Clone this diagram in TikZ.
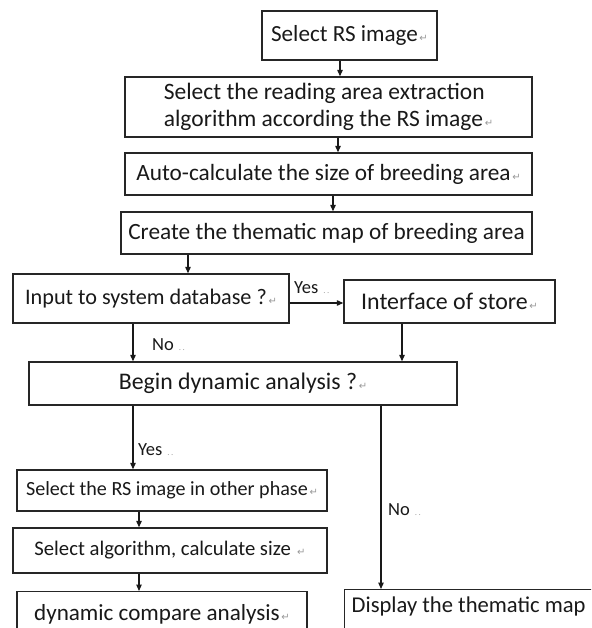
\documentclass[tikz,border=0pt]{standalone}
\usepackage{fontspec}
\setmainfont{Carlito}
\newfontfamily\symf{DejaVu Sans}
\usetikzlibrary{arrows.meta}
\newcommand{\ret}{{\symf\fontsize{10}{10}\selectfont\color{black!40}\,↵}}
\newcommand{\fdots}{{\fontsize{9}{9}\selectfont\color{black!35}\hspace{5pt}.\,.}}
\newcommand{\fs}[1]{\fontsize{#1}{1.15\dimexpr #1pt\relax}\selectfont}
\begin{document}
\begin{tikzpicture}[x=1pt,y=-1pt,
  box/.style={draw=black!85, line width=1.4pt, inner sep=0pt, font=\fs{23.3}, text=black!90},
  arr/.style={draw=black!90, line width=1.2pt, -{Triangle[length=6.5pt,width=5.5pt]}},
  lab/.style={font=\fs{18.5}, anchor=west, inner sep=0pt, text=black!90}]
\useasboundingbox (0,0) rectangle (591,628);
\clip (0,0) rectangle (591,628);
\fill[white] (0,0) rectangle (591,628);

\node[box, minimum width=175pt, minimum height=49pt, font=\fs{23.1}] (b1) at (349.5,35.5) {Select RS image\ret};
\node[box, minimum width=407pt, minimum height=60pt, align=left, font=\fontsize{23.5}{27}\selectfont] (b2) at (328.5,107) {Select the reading area extraction\\algorithm according the RS image\ret};
\node[box, minimum width=407pt, minimum height=42pt] (b3) at (328.5,174) {Auto-calculate the size of breeding area\ret};
\node[box, minimum width=411pt, minimum height=42pt] (b4) at (326.5,233) {Create the thematic map of breeding area};
\node[box, minimum width=276pt, minimum height=49pt, font=\fs{22.2}] (b5) at (151,298.5) {Input to system database ?\ret};
\node[box, minimum width=211pt, minimum height=43pt, font=\fs{23.9}] (st) at (449.5,301.5) {Interface of store\ret};
\node[box, minimum width=428pt, minimum height=43pt, font=\fs{23.8}] (b6) at (243,383.5) {Begin dynamic analysis ?\ret};
\node[box, minimum width=310pt, minimum height=41pt, font=\fs{20.1}] (b7) at (172,490.5) {Select the RS image in other phase\ret};
\node[box, minimum width=314pt, minimum height=45pt, font=\fs{20.7}] (b8) at (170,550.5) {Select algorithm, calculate size \ret};
\node[box, anchor=north, minimum width=290pt, text height=29pt, text depth=15pt, font=\fs{23.1}] (b9) at (162,591) {dynamic compare analysis\ret};
\node[box, anchor=north west, text height=23pt, text depth=20pt, inner xsep=7pt, font=\fs{22.6}] (b10) at (344,589) {\makebox[286pt][l]{Display the thematic map}};

\draw[arr] ([xshift=-9.5pt]b1.south) -- ([xshift=11.5pt]b2.north);
\draw[arr] ([xshift=9.5pt]b2.south) -- ([xshift=9.5pt]b3.north);
\draw[arr] ([xshift=4.5pt]b3.south) -- ([xshift=6.5pt]b4.north);
\draw[arr] ([xshift=-138.5pt]b4.south) -- ([xshift=37pt]b5.north);
\draw[arr] ([yshift=-4.5pt]b5.east) -- ([yshift=-1.5pt]st.west);
\draw[arr] ([xshift=-18pt]b5.south) -- ([xshift=-110pt]b6.north);
\draw[arr] ([xshift=-47.5pt]st.south) -- ([xshift=159pt]b6.north);
\draw[arr] ([xshift=-110pt]b6.south) -- ([xshift=-39pt]b7.north);
\draw[arr] ([xshift=138pt]b6.south) -- ([xshift=37pt]b10.north west);
\draw[arr] ([xshift=-33pt]b7.south) -- ([xshift=-31pt]b8.north);
\draw[arr] ([xshift=-31pt]b8.south) -- ([xshift=-23pt]b9.north);

\node[lab] (l1) at (294,288) {Yes\fdots};
\node[lab] (l2) at (152,345) {No\fdots};
\node[lab] (l3) at (138,450) {Yes\fdots};
\node[lab] (l4) at (388,510) {No\fdots};
\end{tikzpicture}
\end{document}
